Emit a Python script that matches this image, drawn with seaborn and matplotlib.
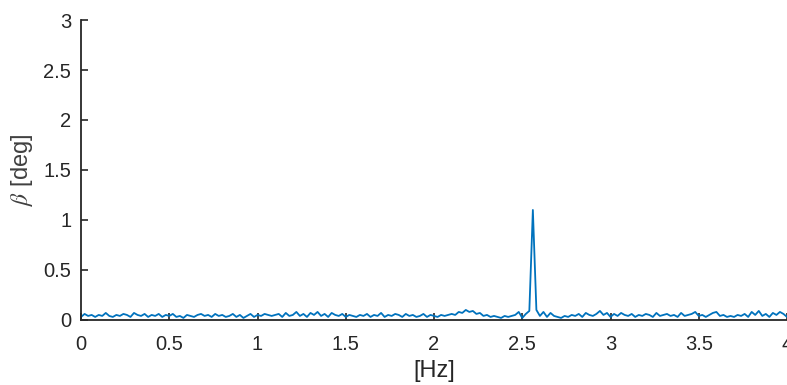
import numpy as np
import pandas as pd
import seaborn as sns
import matplotlib.pyplot as plt
from matplotlib.ticker import FuncFormatter

# frequency grid step (Hz)
df_step = 0.02

# beta amplitude, 0.02 Hz apart, 0 .. 4 Hz
beta_0_05 = [0.03, 0.06, 0.04, 0.05, 0.03, 0.05, 0.04, 0.07, 0.04, 0.03, 0.05, 0.04, 0.06,
             0.05, 0.03, 0.07, 0.05, 0.04, 0.06, 0.03, 0.05, 0.04, 0.06, 0.03, 0.05]
beta_05_1 = [0.04, 0.06, 0.03, 0.04, 0.02, 0.05, 0.04, 0.03, 0.05, 0.06, 0.04, 0.05, 0.03,
             0.06, 0.04, 0.05, 0.03, 0.04, 0.06, 0.03, 0.05, 0.02, 0.04, 0.06, 0.03]
beta_1_15 = [0.05, 0.04, 0.06, 0.05, 0.04, 0.05, 0.06, 0.03, 0.07, 0.04, 0.05, 0.08, 0.04,
             0.06, 0.03, 0.07, 0.05, 0.08, 0.04, 0.06, 0.03, 0.07, 0.05, 0.04, 0.06]
beta_15_2 = [0.03, 0.05, 0.04, 0.03, 0.05, 0.04, 0.06, 0.03, 0.05, 0.04, 0.07, 0.03, 0.05,
             0.04, 0.06, 0.05, 0.03, 0.06, 0.04, 0.05, 0.03, 0.04, 0.06, 0.03, 0.05]
beta_2_25 = [0.04, 0.03, 0.05, 0.04, 0.05, 0.06, 0.05, 0.08, 0.07, 0.10, 0.08, 0.09, 0.06,
             0.07, 0.04, 0.05, 0.03, 0.04, 0.03, 0.02, 0.04, 0.03, 0.04, 0.05, 0.08]
beta_25_3 = [0.02, 0.06, 0.09, 1.10, 0.10, 0.04, 0.08, 0.03, 0.07, 0.04, 0.03, 0.02, 0.04,
             0.03, 0.05, 0.04, 0.06, 0.03, 0.07, 0.05, 0.04, 0.06, 0.09, 0.05, 0.07]
beta_3_35 = [0.03, 0.06, 0.04, 0.07, 0.05, 0.04, 0.06, 0.03, 0.05, 0.04, 0.06, 0.05, 0.03,
             0.07, 0.04, 0.05, 0.06, 0.04, 0.05, 0.03, 0.07, 0.04, 0.05, 0.06, 0.08]
beta_35_4 = [0.04, 0.05, 0.03, 0.05, 0.07, 0.08, 0.04, 0.05, 0.03, 0.04, 0.03, 0.05, 0.04,
             0.06, 0.03, 0.08, 0.05, 0.09, 0.04, 0.06, 0.03, 0.07, 0.05, 0.08, 0.06]
beta_end = [0.03]

beta = beta_0_05 + beta_05_1 + beta_1_15 + beta_15_2 + beta_2_25 + beta_25_3 + beta_3_35 + beta_35_4 + beta_end
freq = np.arange(len(beta)) * df_step

xticks = [0, 0.5, 1, 1.5, 2, 2.5, 3, 3.5, 4]
yticks = [0, 0.5, 1, 1.5, 2, 2.5, 3]

SpecDf = pd.DataFrame({"f": freq, "beta": beta})

sns.set_style("ticks")
plt.rcParams['font.family'] = ['Liberation Sans', 'DejaVu Sans']
plt.rcParams['mathtext.fontset'] = 'stix'

fig = plt.figure(figsize=(7.87, 3.85), dpi=100)
ax = fig.add_axes([0.103, 0.169, 0.897, 0.779])

sns.lineplot(data=SpecDf, x="f", y="beta", ax=ax, color="#0072BD", linewidth=1.3)

ax.set_xlim(0, 4)
ax.set_ylim(0, 3)
ax.set_xticks(xticks)
ax.set_yticks(yticks)
fmt = FuncFormatter(lambda v, p: "%g" % v)
ax.xaxis.set_major_formatter(fmt)
ax.yaxis.set_major_formatter(fmt)

ax.tick_params(direction="in", length=5, width=1.2, labelsize=14.5, colors="#262626")
ax.tick_params(axis="x", pad=11)
ax.tick_params(axis="y", pad=7)
for s in ["top", "right"]:
    ax.spines[s].set_visible(False)
for s in ["left", "bottom"]:
    ax.spines[s].set_linewidth(1.3)
    ax.spines[s].set_color("#262626")

ax.set_xlabel("[Hz]", fontsize=17, color="#262626", labelpad=4)
ax.set_ylabel(r"$\beta$ [deg]", fontsize=17, color="#404040", labelpad=6)

fig.savefig("out.png", dpi=100)
